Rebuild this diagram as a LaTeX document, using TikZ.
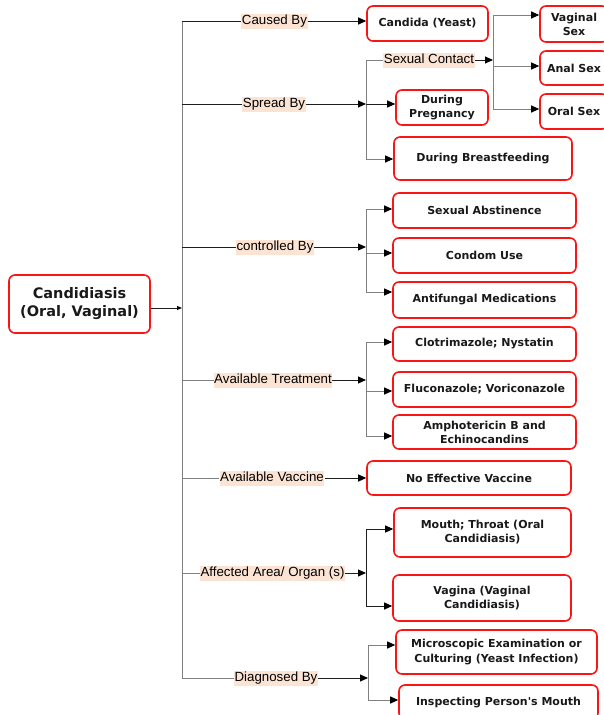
\documentclass[tikz,border=0pt]{standalone}
\usepackage{fontspec}
\setmainfont{Liberation Sans}
\newfontfamily\boxfont{DejaVu Sans}
\usetikzlibrary{arrows.meta}
\definecolor{boxred}{RGB}{250,20,20}
\definecolor{peach}{RGB}{252,228,212}
\definecolor{mainline}{RGB}{30,30,30}
\definecolor{subline}{RGB}{128,128,128}
\begin{document}
\begin{tikzpicture}[x=1pt,y=-1pt,
  bx/.style={draw=boxred, line width=1.6pt, rounded corners=6pt, fill=white, align=center,
    font=\boxfont\bfseries\fontsize{11}{14}\selectfont, inner sep=0pt, text=black!90},
  lbl/.style={fill=peach, inner xsep=0.5pt, inner ysep=1pt, text height=10pt, text depth=3pt,
    font=\fontsize{13.3}{15}\selectfont, text=black},
  tip/.style={-{Triangle[length=8pt,width=7pt,color=black]}},
  spine/.style={draw=subline, line width=1pt},
  main/.style={draw=mainline, line width=1pt},
  mainarr/.style={main, tip},
  sub/.style={draw=subline, line width=1pt},
  subarr/.style={sub, tip}]
\useasboundingbox (0,0) rectangle (603,715);

% boxes
\node[bx, minimum width=141pt, minimum height=58pt, font=\boxfont\bfseries\fontsize{14.5}{18}\selectfont] (root) at (79.5,304) {Candidiasis\\(Oral, Vaginal)};
\node[bx, minimum width=121pt, minimum height=35pt] (candida) at (427.5,23.5) {Candida (Yeast)};
\node[bx, minimum width=68pt, minimum height=36pt] (vag) at (574,24) {Vaginal\\Sex};
\node[bx, minimum width=68pt, minimum height=34pt] (anal) at (574,68) {Anal Sex};
\node[bx, minimum width=68pt, minimum height=35pt] (oral) at (574,111.5) {Oral Sex};
\node[bx, minimum width=92pt, minimum height=35pt] (preg) at (442,107.5) {During\\Pregnancy};
\node[bx, minimum width=178pt, minimum height=43pt] (breast) at (483,158.5) {During Breastfeeding};
\node[bx, minimum width=183pt, minimum height=35pt] (abst) at (484.5,210.5) {Sexual Abstinence};
\node[bx, minimum width=183pt, minimum height=35pt] (condom) at (484.5,255.5) {Condom Use};
\node[bx, minimum width=183pt, minimum height=36pt] (antif) at (484.5,300) {Antifungal Medications};
\node[bx, minimum width=183pt, minimum height=34pt] (clot) at (484.5,344) {Clotrimazole; Nystatin};
\node[bx, minimum width=183pt, minimum height=35pt] (fluc) at (484.5,389.5) {Fluconazole; Voriconazole};
\node[bx, minimum width=183pt, minimum height=34pt] (ampho) at (484.5,432) {Amphotericin B and\\Echinocandins};
\node[bx, minimum width=204pt, minimum height=34pt] (vacc) at (469,478) {No Effective Vaccine};
\node[bx, minimum width=177pt, minimum height=49pt] (mouth) at (482.5,532.5) {Mouth; Throat (Oral\\Candidiasis)};
\node[bx, minimum width=178pt, minimum height=46pt] (vagina) at (482,598) {Vagina (Vaginal\\Candidiasis)};
\node[bx, minimum width=201pt, minimum height=44pt] (micro) at (496.5,652) {Microscopic Examination or\\Culturing (Yeast Infection)};
\node[bx, minimum width=199pt, minimum height=34pt] (insp) at (498.5,702) {Inspecting Person's Mouth};

% labels
\node[lbl] (lCaused) at (274.5,21) {Caused By};
\node[lbl] (lSpread) at (274,104) {Spread By};
\node[lbl] (lCtrl) at (275,247) {controlled By};
\node[lbl] (lTreat) at (273,380) {Available Treatment};
\node[lbl] (lVacc) at (272,478) {Available Vaccine};
\node[lbl] (lAff) at (272.5,573) {Affected Area/ Organ (s)};
\node[lbl] (lDiag) at (276,678) {Diagnosed By};
\node[lbl] (lSC) at (429,60) {Sexual Contact};

% spine coordinates
\coordinate (sC) at (182,21);
\coordinate (sS) at (182,104);
\coordinate (sCt) at (182,247);
\coordinate (sR) at (182,308);
\coordinate (sT) at (182,380);
\coordinate (sV) at (182,478);
\coordinate (sA) at (182,573);
\coordinate (sD) at (182,678);
% bracket coordinates
\coordinate (bS) at (366,104);
\coordinate (bS1) at (366,60);
\coordinate (bS2) at (366,159);
\coordinate (bSC) at (493,60);
\coordinate (bSC1) at (493,15);
\coordinate (bSC2) at (493,66);
\coordinate (bSC3) at (493,109);
\coordinate (bC) at (366,247);
\coordinate (bC1) at (366,209);
\coordinate (bC2) at (366,253);
\coordinate (bC3) at (366,292);
\coordinate (bT) at (366,380);
\coordinate (bT1) at (366,342);
\coordinate (bT2) at (366,391);
\coordinate (bT3) at (366,436);
\coordinate (bA) at (366,573);
\coordinate (bA1) at (366,529);
\coordinate (bA2) at (366,606);
\coordinate (bD) at (368,678);
\coordinate (bD1) at (368,645);
\coordinate (bD2) at (368,700);

% spine
\draw[spine] (sC) -- (sD);
\draw[main, -{Triangle[length=5pt,width=4pt,color=black]}] (root.east |- sR) -- (sR);

% caused by
\draw[main] (sC) -- (lCaused.west);
\draw[mainarr] (lCaused.east) -- (candida.west |- lCaused.east);

% spread by
\draw[main] (sS) -- (lSpread.west);
\draw[mainarr] (lSpread.east) -- (bS);
\draw[sub] (bS1) -- (bS2);
\draw[mainarr] (bS) -- (preg.west |- bS);
\draw[subarr] (bS2) -- (breast.west |- bS2);
\draw[sub] (bS1) -- (lSC.west);
\draw[mainarr] (lSC.east) -- (bSC);
\draw[sub] (bSC1) -- (bSC3);
\draw[subarr] (bSC1) -- (vag.west |- bSC1);
\draw[subarr] (bSC2) -- (anal.west |- bSC2);
\draw[subarr] (bSC3) -- (oral.west |- bSC3);

% controlled by
\draw[main] (sCt) -- (lCtrl.west);
\draw[mainarr] (lCtrl.east) -- (bC);
\draw[sub] (bC1) -- (bC3);
\draw[subarr] (bC1) -- (abst.west |- bC1);
\draw[subarr] (bC2) -- (condom.west |- bC2);
\draw[subarr] (bC3) -- (antif.west |- bC3);

% treatment
\draw[sub] (sT) -- (lTreat.west);
\draw[mainarr] (lTreat.east) -- (bT);
\draw[sub] (bT1) -- (bT3);
\draw[subarr] (bT1) -- (clot.west |- bT1);
\draw[subarr] (bT2) -- (fluc.west |- bT2);
\draw[subarr] (bT3) -- (ampho.west |- bT3);

% vaccine
\draw[sub] (sV) -- (lVacc.west);
\draw[mainarr] (lVacc.east) -- (vacc.west |- lVacc.east);

% affected
\draw[sub] (sA) -- (lAff.west);
\draw[mainarr] (lAff.east) -- (bA);
\draw[main] (bA1) -- (bA2);
\draw[mainarr] (bA1) -- (mouth.west |- bA1);
\draw[mainarr] (bA2) -- (vagina.west |- bA2);

% diagnosed
\draw[sub] (sD) -- (lDiag.west);
\draw[mainarr] (lDiag.east) -- (bD);
\draw[sub] (bD1) -- (bD2);
\draw[subarr] (bD1) -- (micro.west |- bD1);
\draw[subarr] (bD2) -- (insp.west |- bD2);
\end{tikzpicture}
\end{document}
